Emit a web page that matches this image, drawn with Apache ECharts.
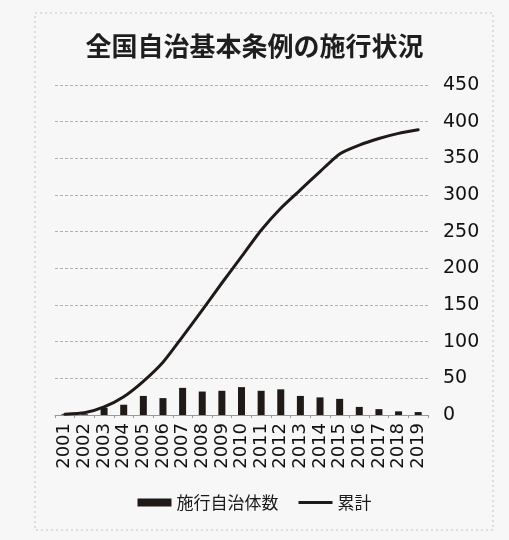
<!DOCTYPE html>
<html>
<head>
<meta charset="utf-8">
<script src="https://cdn.jsdelivr.net/npm/echarts@6/dist/echarts.min.js"></script>
<style>
html,body{margin:0;padding:0;background:#f7f7f7;}
#c{width:509px;height:540px;}
</style>
</head>
<body>
<div id="c"></div>
<script>
const years = ['2001','2002','2003','2004','2005','2006','2007','2008','2009','2010','2011','2012','2013','2014','2015','2016','2017','2018','2019'];
const annual = [1,1,10,14,26,23,37,32,33,38,33,35,26,24,22,11,8,5,4];
const cumulative = [1,3,11,25,46,72,107,143,180,216,252,282,307,332,356,368,377,384,389];
const yTicks = [0,50,100,150,200,250,300,350,400,450];

const chart = echarts.init(document.getElementById('c'));
chart.setOption({
  backgroundColor: '#f7f7f7',
  animation: false,
  title: {
    text: '全国自治基本条例の施行状況',
    left: 'center',
    top: 28,
    textStyle: {fontFamily: 'Noto Sans CJK JP', fontSize: 26, fontWeight: 'bold', color: '#1e1e1e'}
  },
  graphic: [{
    type: 'rect',
    shape: {x: 35, y: 13, width: 458, height: 517},
    style: {fill: 'none', stroke: '#c4c4c4', lineWidth: 1, lineDash: [2, 3]},
    silent: true
  }],
  grid: {left: 55, right: 81, top: 85, bottom: 125},
  legend: {
    bottom: 24,
    left: 'center',
    itemGap: 20,
    itemWidth: 34,
    itemHeight: 8,
    textStyle: {fontFamily: 'Noto Sans CJK JP', fontSize: 17, color: '#1a1a1a'},
    data: [
      {name: '施行自治体数', icon: 'rect'},
      {name: '累計', icon: 'path://M0,0 L36,0 L36,3 L0,3 Z'}
    ]
  },
  xAxis: {
    type: 'category',
    data: years,
    axisLine: {lineStyle: {color: '#999', width: 1}},
    axisTick: {show: true, length: 3, lineStyle: {color: '#999'}},
    axisLabel: {rotate: 90, margin: 8, fontFamily: 'DejaVu Sans', fontSize: 18, color: '#111', interval: 0}
  },
  yAxis: {
    type: 'value',
    position: 'right',
    min: 0, max: 450, interval: 50,
    axisLine: {show: false},
    axisTick: {show: false},
    axisLabel: {margin: 15, fontFamily: 'DejaVu Sans', fontSize: 19, color: '#111',
      formatter: v => yTicks.includes(v) ? String(v) : ''},
    splitLine: {lineStyle: {color: '#b0b0b0', type: [3, 2], width: 1}}
  },
  series: [
    {
      name: '施行自治体数',
      type: 'bar',
      data: annual,
      barWidth: 7,
      itemStyle: {color: '#1f1a18'}
    },
    {
      name: '累計',
      type: 'line',
      data: cumulative,
      smooth: 0.2,
      symbol: 'none',
      lineStyle: {color: '#1f1a18', width: 3, cap: 'round', join: 'round'},
      itemStyle: {color: '#1f1a18'}
    }
  ]
});
</script>
</body>
</html>
